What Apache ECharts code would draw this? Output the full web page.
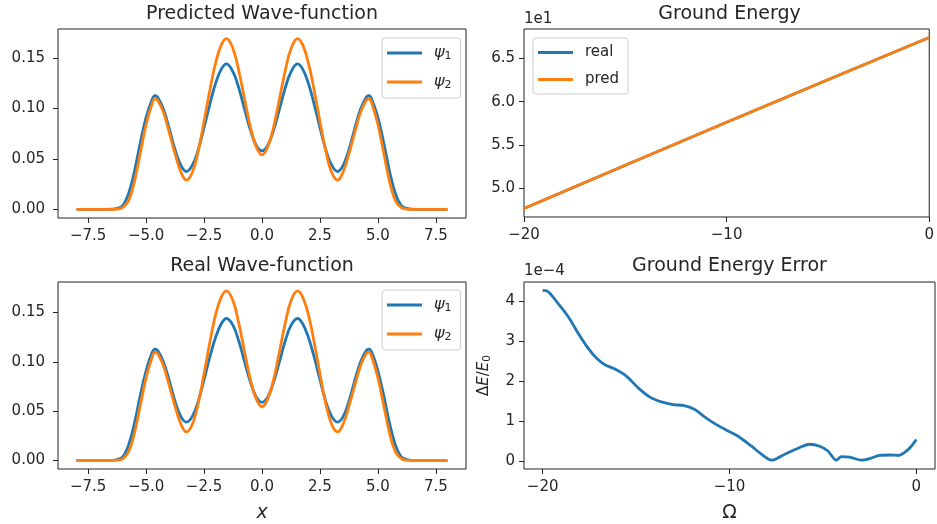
<!DOCTYPE html>
<html>
<head>
<meta charset="utf-8">
<script src="https://cdn.jsdelivr.net/npm/echarts@6/dist/echarts.min.js"></script>
<style>
  html, body { margin: 0; padding: 0; background: #fff; }
  #main { width: 937px; height: 524px; }
</style>
</head>
<body>
<div id="main"></div>
<script>
// Spatial grid for the wave-function densities
const xGrid = [-8, -7, -6.5, -6.25, -6, -5.75, -5.5, -5.25, -5, -4.75, -4.62, -4.5, -4.25, -4, -3.75, -3.5, -3.26, -3, -2.75, -2.5,
  -2.25, -2, -1.75, -1.53, -1.25, -1, -0.75, -0.5, -0.25, 0, 0.25, 0.5, 0.75, 1, 1.25, 1.53, 1.75, 2, 2.25,
  2.5, 2.75, 3, 3.26, 3.5, 3.75, 4, 4.25, 4.5, 4.62, 4.75, 5, 5.25, 5.5, 5.75, 6, 6.25, 6.5, 7, 8];

// Predicted densities
const predPsi1 = [0, 0, 0.0002, 0.001, 0.004, 0.016, 0.038, 0.066, 0.091, 0.108, 0.1125, 0.111, 0.099, 0.080, 0.059, 0.0435, 0.0375, 0.044, 0.059, 0.081,
  0.104, 0.125, 0.139, 0.144, 0.136, 0.120, 0.099, 0.0785, 0.0635, 0.058, 0.0635, 0.0785, 0.099, 0.120, 0.136, 0.144, 0.139, 0.125, 0.104,
  0.081, 0.059, 0.044, 0.0375, 0.0435, 0.059, 0.080, 0.099, 0.111, 0.1125, 0.108, 0.091, 0.066, 0.038, 0.016, 0.004, 0.001, 0.0002, 0, 0];
const predPsi2 = [0, 0, 0, 0.0003, 0.002, 0.009, 0.028, 0.056, 0.084, 0.104, 0.1095, 0.108, 0.096, 0.076, 0.055, 0.037, 0.029, 0.037, 0.058, 0.087,
  0.118, 0.145, 0.163, 0.169, 0.159, 0.137, 0.109, 0.0815, 0.062, 0.054, 0.062, 0.0815, 0.109, 0.137, 0.159, 0.169, 0.163, 0.145, 0.118,
  0.087, 0.058, 0.037, 0.029, 0.037, 0.055, 0.076, 0.096, 0.108, 0.1095, 0.104, 0.084, 0.056, 0.028, 0.009, 0.002, 0.0003, 0, 0, 0];

// Exact densities
const realPsi1 = [0, 0, 0.0002, 0.001, 0.004, 0.016, 0.038, 0.066, 0.091, 0.109, 0.113, 0.1115, 0.100, 0.081, 0.060, 0.0445, 0.039, 0.045, 0.060, 0.082,
  0.105, 0.125, 0.139, 0.144, 0.137, 0.121, 0.100, 0.0795, 0.0645, 0.059, 0.0645, 0.0795, 0.100, 0.121, 0.137, 0.144, 0.139, 0.125, 0.105,
  0.082, 0.060, 0.045, 0.039, 0.0445, 0.060, 0.081, 0.100, 0.1115, 0.113, 0.109, 0.091, 0.066, 0.038, 0.016, 0.004, 0.001, 0.0002, 0, 0];
const realPsi2 = [0, 0, 0, 0.0003, 0.002, 0.009, 0.028, 0.056, 0.084, 0.104, 0.110, 0.1085, 0.096, 0.076, 0.055, 0.037, 0.029, 0.037, 0.058, 0.088,
  0.120, 0.148, 0.166, 0.172, 0.162, 0.139, 0.110, 0.082, 0.0625, 0.0545, 0.0625, 0.082, 0.110, 0.139, 0.162, 0.172, 0.166, 0.148, 0.120,
  0.088, 0.058, 0.037, 0.029, 0.037, 0.055, 0.076, 0.096, 0.1085, 0.110, 0.104, 0.084, 0.056, 0.028, 0.009, 0.002, 0.0003, 0, 0, 0];

// Ground energy versus Omega
const omegaE = [-20, -15, -10, -5, 0];
const energyReal = [47.68, 52.66, 57.62, 62.53, 67.39];
const energyPred = [47.68, 52.66, 57.62, 62.53, 67.39];

// Relative ground-energy error versus Omega
const omegaErr = [-20, -19.79, -19.17, -18.63, -18.10, -17.56, -17.11, -16.67, -16.13, -15.51, -14.89, -14.26, -13.64, -13.02, -12.48,
  -11.86, -11.32, -10.70, -10.07, -9.54, -8.82, -8.29, -7.75, -7.04, -6.33, -5.71, -5.17, -4.73, -4.28, -4.01, -3.57, -2.94, -2.50,
  -1.96, -1.34, -0.98, -0.53, -0.27, 0];
const relErr = [4.27e-4, 4.26e-4, 3.94e-4, 3.61e-4, 3.20e-4, 2.82e-4, 2.57e-4, 2.41e-4, 2.30e-4, 2.12e-4, 1.83e-4, 1.60e-4, 1.48e-4, 1.41e-4, 1.39e-4,
  1.29e-4, 1.10e-4, 0.91e-4, 0.75e-4, 0.62e-4, 0.37e-4, 0.17e-4, 0.02e-4, 0.17e-4, 0.32e-4, 0.42e-4, 0.37e-4, 0.25e-4, 0.02e-4, 0.11e-4, 0.10e-4, 0.02e-4, 0.06e-4,
  0.14e-4, 0.15e-4, 0.14e-4, 0.25e-4, 0.37e-4, 0.54e-4];

// Tick labels
const waveXTicks = [-7.5, -5, -2.5, 0, 2.5, 5, 7.5];
const waveYTicks = [0, 0.05, 0.10, 0.15];
const omegaTicks = [-20, -10, 0];
const energyTicks = [50, 55, 60, 65];
const errTicks = [0, 1e-4, 2e-4, 3e-4, 4e-4];

const FONT = '"DejaVu Sans", sans-serif';
const TXT = '#262626';
const BLUE = '#1f77b4';
const ORANGE = '#ff7f0e';
const TICK_FONT = 15;
const minus = s => s.replace('-', '\u2212');

function zip(xs, ys) { return xs.map((x, i) => [x, ys[i]]); }

function valueAxis(gridIndex, min, max, ticks, fmt, labelMargin, extra) {
  return Object.assign({
    type: 'value', gridIndex, min, max,
    axisLine: { show: false, onZero: false },
    splitLine: { show: false },
    axisTick: { show: true, length: 5, customValues: ticks, lineStyle: { color: '#222', width: 1 } },
    axisLabel: { customValues: ticks, formatter: fmt, fontFamily: FONT, fontSize: TICK_FONT, color: TXT, margin: labelMargin }
  }, extra || {});
}

const gridStyle = { show: true, borderColor: '#222', borderWidth: 1, backgroundColor: 'transparent' };

const legendBase = {
  orient: 'vertical', selectedMode: false, icon: 'rect', itemWidth: 35, itemHeight: 3, itemGap: 12,
  padding: [7, 9, 7, 5], borderColor: '#cccccc', borderWidth: 1, borderRadius: 3,
  backgroundColor: 'rgba(255,255,255,0.8)'
};
const psiRich = {
  i: { fontFamily: FONT, fontStyle: 'italic', fontSize: 16, color: TXT, padding: [0, 0, 0, 7] },
  s: { fontFamily: FONT, fontSize: 11, color: TXT, padding: [7, 0, 0, 0] }
};
const psiFmt = n => n === 'psi1' ? '{i|\u03c8}{s|1}' : '{i|\u03c8}{s|2}';

const lineSeries = (name, xi, data, color, smooth) => ({
  name, type: 'line', xAxisIndex: xi, yAxisIndex: xi, data, showSymbol: false, smooth,
  lineStyle: { color, width: 2.8 }, itemStyle: { color }, silent: true
});

const titleText = (text, x, y) => ({
  type: 'text', x, y,
  style: { text, font: '19px ' + FONT, fill: TXT, align: 'center', verticalAlign: 'middle' }
});
const offsetText = (text, x, y) => ({
  type: 'text', x, y,
  style: { text, font: TICK_FONT + 'px ' + FONT, fill: TXT, align: 'left', verticalAlign: 'middle' }
});

const option = {
  animation: false,
  backgroundColor: '#fff',
  grid: [
    Object.assign({ left: 58, top: 29, width: 408, height: 189 }, gridStyle),
    Object.assign({ left: 524, top: 29, width: 411, height: 188 }, gridStyle),
    Object.assign({ left: 58, top: 282, width: 408, height: 188 }, gridStyle),
    Object.assign({ left: 524, top: 282, width: 411, height: 188 }, gridStyle)
  ],
  xAxis: [
    valueAxis(0, -8.8, 8.8, waveXTicks, v => minus(v.toFixed(1)), 11),
    valueAxis(1, -20, 0, omegaTicks, v => minus(String(v)), 11),
    valueAxis(2, -8.8, 8.8, waveXTicks, v => minus(v.toFixed(1)), 11, {
      name: 'x', nameLocation: 'middle', nameGap: 35,
      nameTextStyle: { fontFamily: FONT, fontStyle: 'italic', fontSize: 19, color: TXT }
    }),
    valueAxis(3, -21, 1, omegaTicks, v => minus(String(v)), 11, {
      name: '\u03a9', nameLocation: 'middle', nameGap: 35,
      nameTextStyle: { fontFamily: FONT, fontSize: 19, color: TXT }
    })
  ],
  yAxis: [
    valueAxis(0, -0.0085, 0.1785, waveYTicks, v => v.toFixed(2), 13),
    valueAxis(1, 46.69, 68.38, energyTicks, v => (v / 10).toFixed(1), 9),
    valueAxis(2, -0.0086, 0.181, waveYTicks, v => v.toFixed(2), 13),
    valueAxis(3, -0.2e-4, 4.48e-4, errTicks, v => String(Math.round(v * 1e4)), 9, {
      name: '{u|\u0394}{i|E}{u|/}{i|E}{s|0}', nameLocation: 'middle', nameGap: 31, nameRotate: 90,
      nameTextStyle: {
        rich: {
          u: { fontFamily: FONT, fontSize: 15, color: TXT },
          i: { fontFamily: FONT, fontSize: 15, fontStyle: 'italic', color: TXT },
          s: { fontFamily: FONT, fontSize: 10.5, color: TXT, padding: [6, 0, 0, 0] }
        }
      }
    })
  ],
  legend: [
    Object.assign({ left: 382, top: 38, data: ['psi1', 'psi2'], formatter: psiFmt, textStyle: { rich: psiRich } }, legendBase),
    Object.assign({ left: 533, top: 38, data: ['real', 'pred'],
      textStyle: { fontFamily: FONT, fontSize: 15, color: TXT, padding: [0, 0, 0, 7] } }, legendBase),
    Object.assign({ left: 382, top: 290, data: ['psi1', 'psi2'], formatter: psiFmt, textStyle: { rich: psiRich } }, legendBase)
  ],
  series: [
    lineSeries('psi1', 0, zip(xGrid, predPsi1), BLUE, 0.4),
    lineSeries('psi2', 0, zip(xGrid, predPsi2), ORANGE, 0.4),
    lineSeries('real', 1, zip(omegaE, energyReal), BLUE, false),
    lineSeries('pred', 1, zip(omegaE, energyPred), ORANGE, false),
    lineSeries('psi1', 2, zip(xGrid, realPsi1), BLUE, 0.4),
    lineSeries('psi2', 2, zip(xGrid, realPsi2), ORANGE, 0.4),
    lineSeries('err', 3, zip(omegaErr, relErr), BLUE, 0.3)
  ],
  graphic: [
    titleText('Predicted Wave-function', 262, 14),
    titleText('Ground Energy', 729.5, 14),
    titleText('Real Wave-function', 262, 266),
    titleText('Ground Energy Error', 729.5, 266),
    offsetText('1e1', 524, 19),
    offsetText('1e\u22124', 524, 271)
  ]
};

const chart = echarts.init(document.getElementById('main'), null, { renderer: 'canvas' });
chart.setOption(option);
</script>
</body>
</html>
